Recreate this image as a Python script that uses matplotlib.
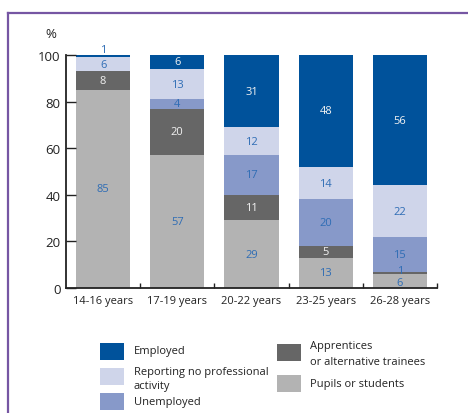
import numpy as np
import matplotlib.pyplot as plt
from matplotlib.patches import Rectangle
from matplotlib.lines import Line2D

plt.rcParams['font.family'] = ['Open Sans', 'DejaVu Sans']

ages = ['14-16 years', '17-19 years', '20-22 years', '23-25 years', '26-28 years']
pupils = [85, 57, 29, 13, 6]
apprentices = [8, 20, 11, 5, 1]
unemployed = [0, 4, 17, 20, 15]
no_activity = [6, 13, 12, 14, 22]
employed = [1, 6, 31, 48, 56]

names = ['Pupils or students', 'Apprentices\nor alternative trainees', 'Unemployed',
         'Reporting no professional\nactivity', 'Employed']
colors = ['#b3b3b3', '#666666', '#8799c9', '#cfd5ea', '#00529b']
text_colors = ['#2f6db5', '#f2f2f2', '#2f6db5', '#2f6db5', '#f2f2f2']
blue_txt = '#2f6db5'

W, H = 468, 414
fig = plt.figure(figsize=(W / 100, H / 100), dpi=100)
ax = fig.add_axes([66 / W, 125 / H, (437 - 66) / W, (289 - 56) / H])

x = np.arange(len(ages))
bottom = np.zeros(len(ages))
for vals, c, tc in zip([pupils, apprentices, unemployed, no_activity, employed], colors, text_colors):
    vals = np.array(vals, dtype=float)
    ax.bar(x, vals, 0.73, bottom=bottom, color=c, linewidth=0)
    for i, v in enumerate(vals):
        if v <= 0:
            continue
        if v <= 1:
            # tiny segments get their number just above the slice
            top = bottom[i] + v
            if top >= 100:
                ax.text(x[i], top + 0.2, f'{v:.0f}', ha='center', va='bottom',
                        fontsize=8, color=blue_txt)
            else:
                ax.text(x[i], top + 0.6, f'{v:.0f}', ha='center', va='center',
                        fontsize=8, color=blue_txt)
        else:
            yc = bottom[i] + v / 2
            if bottom[i] == 0 and apprentices[i] <= 1:
                yc -= 0.5
            ax.text(x[i], yc, f'{v:.0f}', ha='center', va='center',
                    fontsize=8, color=tc)
    bottom += vals

ax.set_xlim(-0.5, len(ages) - 0.5)
ax.set_ylim(0, 100)
ax.set_yticks(range(0, 101, 20))
ax.set_xticks(x)
ax.set_xticklabels(ages)
ax.set_xticks(np.arange(len(ages)) + 0.5, minor=True)
ax.tick_params(axis='y', direction='in', length=7.2, width=1, labelsize=9.5,
               pad=4, colors='#222222')
ax.tick_params(axis='x', which='major', length=0, labelsize=8, pad=5, colors='#222222')
ax.tick_params(axis='x', which='minor', direction='in', length=3.6, width=1, color='#222222')
for s in ['top', 'right']:
    ax.spines[s].set_visible(False)
for s in ['left', 'bottom']:
    ax.spines[s].set_linewidth(1.3)
    ax.spines[s].set_color('#222222')

fig.text(51 / W, 1 - 35 / H, '%', ha='center', va='center', fontsize=9.5, color='#222222')

# frame lines
fig.add_artist(Line2D([8 / W, 1], [1 - 14 / H, 1 - 14 / H], transform=fig.transFigure,
                      color='#7656a3', linewidth=1.6))
fig.add_artist(Line2D([8 / W, 8 / W], [1 - 14 / H, 0], transform=fig.transFigure,
                      color='#7656a3', linewidth=1.6))

# legend: series index, patch x/y, text x/y, line spacing
legend_items = [
    (4, 100, 344, 134, 352, 1.2),
    (3, 100, 369, 134, 379.5, 1.45),
    (2, 100, 394, 134, 403, 1.2),
    (1, 277, 345, 310, 354.5, 1.65),
    (0, 277, 376, 310, 385, 1.2),
]
for idx, px, py, tx, ty, ls in legend_items:
    fig.add_artist(Rectangle((px / W, 1 - (py + 17) / H), 24 / W, 17 / H,
                             transform=fig.transFigure, color=colors[idx], linewidth=0))
    fig.text(tx / W, 1 - ty / H, names[idx], ha='left', va='center', fontsize=8,
             color='#222222', linespacing=ls)

fig.savefig('out.png', dpi=100)
